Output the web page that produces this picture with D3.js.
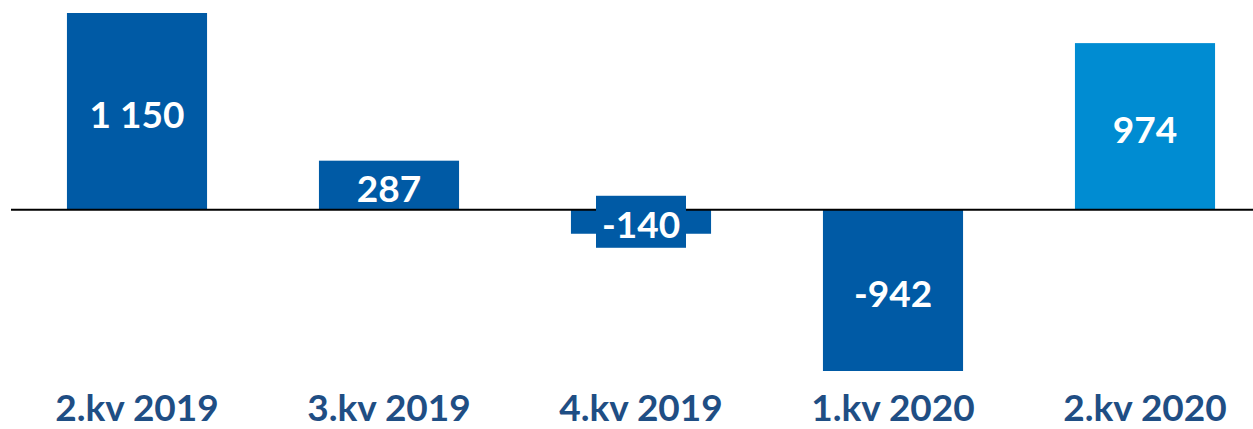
<!DOCTYPE html>
<html>
<head>
<meta charset="utf-8">
<script src="https://cdn.jsdelivr.net/npm/d3@7"></script>
<style>
  body { margin: 0; background: #fff; }
  svg { display: block; }
</style>
</head>
<body>
<svg id="chart" width="1253" height="429"></svg>
<script>
// quarters and values
var quarters = ["2.kv 2019", "3.kv 2019", "4.kv 2019", "1.kv 2020", "2.kv 2020"];
var values = [1150, 287, -140, -942, 974];
var barColors = ["#005aa5", "#005aa5", "#005aa5", "#005aa5", "#008cd2"];

var svg = d3.select("#chart");
var width = 1253;

var x = d3.scaleBand()
    .domain(quarters)
    .range([11, 1271])
    .paddingInner(0.444)
    .paddingOuter(0.222);

var y = d3.scaleLinear()
    .domain([-942, 1150])
    .range([371, 13]);

var fmt = function (v) {
    return d3.format(",")(v).replace(/,/g, " ").replace("\u2212", "-");
};

svg.selectAll("rect.bar")
    .data(values)
    .enter().append("rect")
    .attr("class", "bar")
    .attr("x", function (d, i) { return x(quarters[i]); })
    .attr("width", x.bandwidth())
    .attr("y", function (d) { return y(Math.max(0, d)); })
    .attr("height", function (d) { return Math.abs(y(d) - y(0)); })
    .attr("fill", function (d, i) { return barColors[i]; });

// zero line
svg.append("line")
    .attr("x1", 11).attr("x2", width)
    .attr("y1", y(0)).attr("y2", y(0))
    .attr("stroke", "#000")
    .attr("stroke-width", 2);

// small bars get a label box
svg.selectAll("rect.lblbox")
    .data(values.filter(function (d) { return Math.abs(y(d) - y(0)) < 40; }))
    .enter().append("rect")
    .attr("class", "lblbox")
    .attr("x", function (d) { return x(quarters[values.indexOf(d)]) + x.bandwidth() / 2 - 45; })
    .attr("width", 90)
    .attr("y", function (d) { return (y(d) + y(0)) / 2 - 26; })
    .attr("height", 52)
    .attr("fill", function (d) { return barColors[values.indexOf(d)]; });

svg.selectAll("text.val")
    .data(values)
    .enter().append("text")
    .attr("class", "val")
    .attr("x", function (d, i) { return x(quarters[i]) + x.bandwidth() / 2; })
    .attr("y", function (d) { return (y(d) + y(0)) / 2 + 2; })
    .attr("text-anchor", "middle")
    .attr("dominant-baseline", "central")
    .attr("font-family", "Lato, 'Open Sans', sans-serif")
    .attr("font-weight", "bold")
    .attr("font-size", "37px")
    .attr("fill", "#fff")
    .text(fmt);

svg.selectAll("text.cat")
    .data(quarters)
    .enter().append("text")
    .attr("class", "cat")
    .attr("x", function (d) { return x(d) + x.bandwidth() / 2; })
    .attr("y", 421)
    .attr("text-anchor", "middle")
    .attr("font-family", "Lato, 'Open Sans', sans-serif")
    .attr("font-weight", "bold")
    .attr("font-size", "37px")
    .attr("fill", "#1f4e84")
    .text(function (d) { return d; });
</script>
</body>
</html>
